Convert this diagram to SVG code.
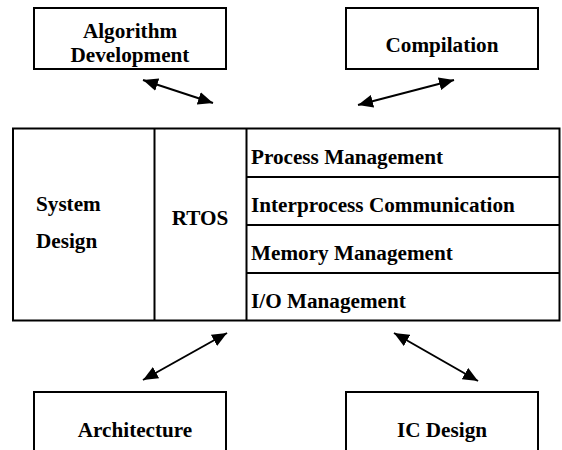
<svg xmlns="http://www.w3.org/2000/svg" width="562" height="450" viewBox="0 0 562 450">
<defs>
<style>
.box{fill:#fff;stroke:#000;stroke-width:2}
.ln{fill:none;stroke:#000;stroke-width:2}
.t{font-family:"Liberation Serif","Times New Roman","DejaVu Serif",serif;font-weight:bold;font-size:21.2px;fill:#000}
.c{text-anchor:middle}
.arr{fill:none;stroke:#000;stroke-width:2;marker-start:url(#ah);marker-end:url(#ah)}
</style>
<marker id="ah" markerUnits="userSpaceOnUse" viewBox="0 0 15 13" refX="15" refY="6.5" markerWidth="15" markerHeight="13" orient="auto-start-reverse">
<path d="M0,0 L15,6.5 L0,13 z" fill="#000"/>
</marker>
</defs>
<rect width="562" height="450" fill="#fff"/>
<g id="algorithm">
<rect class="box" x="34" y="8" width="192" height="61"/>
<text class="t c" x="130" y="38">Algorithm</text>
<text class="t c" x="130" y="62">Development</text>
</g>
<g id="compilation">
<rect class="box" x="346" y="8" width="192" height="61"/>
<text class="t c" x="442" y="52">Compilation</text>
</g>
<g id="main">
<rect class="box" x="13" y="128.5" width="546.5" height="192"/>
<path class="ln" d="M154.5,128.5 V320.5 M246.5,128.5 V320.5 M246.5,177 H559.5 M246.5,225 H559.5 M246.5,273 H559.5"/>
</g>
<g id="system-design">
<text class="t" x="36" y="211">System</text>
<text class="t" x="36" y="248">Design</text>
</g>
<g id="rtos">
<text class="t c" x="200" y="225">RTOS</text>
</g>
<g id="process-management"><text class="t" x="251" y="164">Process Management</text></g>
<g id="interprocess-communication"><text class="t" x="251" y="212">Interprocess Communication</text></g>
<g id="memory-management"><text class="t" x="251" y="260">Memory Management</text></g>
<g id="io-management"><text class="t" x="251" y="308">I/O Management</text></g>
<g id="architecture">
<rect class="box" x="34" y="392" width="192" height="70"/>
<text class="t c" x="135" y="437">Architecture</text>
</g>
<g id="ic-design">
<rect class="box" x="346" y="392" width="192" height="70"/>
<text class="t c" x="442" y="437">IC Design</text>
</g>
<g id="connectors">
<line class="arr" x1="143" y1="80" x2="213" y2="103"/>
<line class="arr" x1="358" y1="105" x2="454" y2="80"/>
<line class="arr" x1="227" y1="333" x2="143" y2="380"/>
<line class="arr" x1="394" y1="333" x2="478" y2="381"/>
</g>
</svg>
